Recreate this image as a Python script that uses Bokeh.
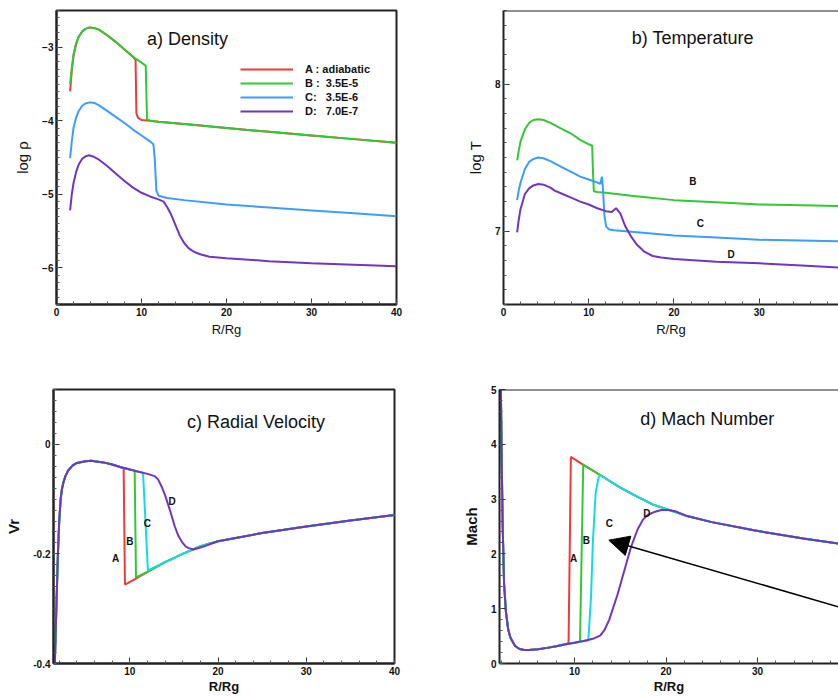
from bokeh.plotting import figure
from bokeh.layouts import column, row
from bokeh.models import (Range1d, SingleIntervalTicker, FixedTicker, Legend, LegendItem,
                          Label, Span, Arrow, NormalHead, ColumnDataSource, CustomJSTickFormatter)
from bokeh.core.properties import value
from bokeh.embed import file_html
from bokeh.resources import INLINE

FONT = "Liberation Sans"

# ---------------- data: a) density (log rho) ----------------
RHO_R_A = [1.6, 1.8, 2.0, 2.3, 2.6, 3.0, 3.4, 3.9, 4.5, 5.0, 6.0, 7.0, 8.0, 9.0, 9.3, 9.4, 9.6, 10.0, 11.0, 12.0, 14.0, 16.0, 20.0, 25.0, 30.0, 35.0, 40.0]
RHO_A = [-3.60, -3.32, -3.12, -2.96, -2.86, -2.79, -2.75, -2.73, -2.74, -2.76, -2.84, -2.93, -3.03, -3.13, -3.17, -3.90, -3.96, -3.99, -4.00, -4.015, -4.035, -4.055, -4.10, -4.15, -4.20, -4.25, -4.30]
RHO_R_B = [1.6, 1.8, 2.0, 2.3, 2.6, 3.0, 3.4, 3.9, 4.5, 5.0, 6.0, 7.0, 8.0, 9.0, 10.0, 10.5, 10.65, 11.0, 12.0, 14.0, 16.0, 20.0, 25.0, 30.0, 35.0, 40.0]
RHO_B = [-3.50, -3.28, -3.10, -2.95, -2.86, -2.79, -2.75, -2.73, -2.74, -2.76, -2.84, -2.93, -3.03, -3.13, -3.21, -3.25, -3.98, -4.00, -4.015, -4.035, -4.055, -4.10, -4.15, -4.20, -4.25, -4.30]
RHO_R_C = [1.6, 1.8, 2.0, 2.3, 2.6, 3.0, 3.4, 3.9, 4.5, 5.0, 6.0, 7.0, 8.0, 9.0, 10.0, 11.0, 11.4, 11.55, 11.75, 12.0, 13.0, 15.0, 20.0, 25.0, 30.0, 35.0, 40.0]
RHO_C = [-4.51, -4.28, -4.10, -3.96, -3.87, -3.80, -3.765, -3.75, -3.76, -3.79, -3.87, -3.95, -4.03, -4.12, -4.20, -4.28, -4.32, -4.50, -4.95, -5.02, -5.05, -5.08, -5.14, -5.18, -5.22, -5.26, -5.30]
RHO_R_D = [1.6, 1.8, 2.0, 2.3, 2.6, 3.0, 3.4, 3.8, 4.4, 5.0, 6.0, 7.0, 8.0, 9.0, 10.0, 11.0, 12.0, 12.6, 13.0, 13.5, 14.0, 14.5, 15.0, 15.5, 16.0, 16.5, 17.0, 18.0, 20.0, 25.0, 30.0, 35.0, 40.0]
RHO_D = [-5.22, -5.00, -4.85, -4.70, -4.60, -4.52, -4.485, -4.47, -4.49, -4.53, -4.62, -4.72, -4.82, -4.91, -4.98, -5.03, -5.07, -5.10, -5.17, -5.28, -5.42, -5.56, -5.66, -5.73, -5.77, -5.80, -5.82, -5.85, -5.87, -5.91, -5.94, -5.96, -5.98]
LEGEND_LABELS = ["A : adiabatic", "B :  3.5E-5", "C:   3.5E-6", "D:   7.0E-7"]

# ---------------- data: b) temperature (log T) ----------------
T_R_B = [1.6, 1.8, 2.0, 2.5, 3.0, 3.5, 4.1, 4.7, 5.5, 6.0, 7.0, 8.0, 9.0, 10.0, 10.4, 10.5, 10.6, 11.0, 12.0, 15.0, 20.0, 25.0, 30.0, 35.0, 40.0]
T_B = [7.48, 7.55, 7.61, 7.69, 7.735, 7.755, 7.76, 7.755, 7.735, 7.72, 7.69, 7.66, 7.62, 7.59, 7.58, 7.40, 7.27, 7.265, 7.26, 7.24, 7.21, 7.195, 7.18, 7.175, 7.17]
T_R_C = [1.6, 1.8, 2.0, 2.5, 3.0, 3.5, 4.1, 4.7, 5.5, 6.0, 7.0, 8.0, 9.0, 10.0, 11.0, 11.35, 11.55, 11.65, 11.85, 12.05, 12.4, 13.0, 15.0, 20.0, 25.0, 30.0, 35.0, 40.0]
T_C = [7.21, 7.28, 7.33, 7.42, 7.47, 7.49, 7.50, 7.495, 7.475, 7.46, 7.43, 7.40, 7.37, 7.35, 7.33, 7.32, 7.37, 7.30, 7.10, 7.03, 7.01, 7.005, 6.995, 6.97, 6.955, 6.94, 6.935, 6.93]
T_R_D = [1.6, 1.8, 2.0, 2.5, 3.0, 3.5, 4.1, 4.7, 5.5, 6.0, 7.0, 8.0, 9.0, 10.0, 11.0, 12.0, 12.7, 13.2, 13.7, 14.3, 15.0, 15.6, 16.5, 17.5, 18.5, 20.0, 25.0, 30.0, 35.0, 40.0]
T_D = [6.99, 7.08, 7.15, 7.25, 7.29, 7.31, 7.32, 7.315, 7.295, 7.275, 7.25, 7.225, 7.20, 7.18, 7.155, 7.135, 7.13, 7.155, 7.12, 7.03, 6.96, 6.91, 6.86, 6.83, 6.82, 6.81, 6.79, 6.78, 6.765, 6.75]
T_TAG_X = [22.2, 23.1, 26.7]
T_TAG_Y = [7.34, 7.05, 6.84]
T_TAG_TEXT = ["B", "C", "D"]

# ---------------- data: c) radial velocity ----------------
V_PRE_R = [1.5, 1.67, 1.85, 2.0, 2.16, 2.3, 2.5, 2.7, 3.0, 3.5, 4.0, 5.0, 5.6, 6.0, 7.0, 8.0, 9.0]
V_PRE = [-0.40, -0.30, -0.20, -0.14, -0.10, -0.082, -0.068, -0.058, -0.048, -0.039, -0.034, -0.031, -0.030, -0.031, -0.033, -0.037, -0.042]
V_R_A = V_PRE_R + [9.3, 9.45, 10.7, 12.0, 14.0, 16.0, 18.0, 20.0, 25.0, 30.0, 35.0, 40.0]
V_A = V_PRE + [-0.044, -0.256, -0.245, -0.233, -0.215, -0.200, -0.186, -0.177, -0.162, -0.150, -0.139, -0.129]
V_R_B = V_PRE_R + [10.0, 10.55, 10.7, 12.0, 14.0, 16.0, 18.0, 20.0, 25.0, 30.0, 35.0, 40.0]
V_B = V_PRE + [-0.046, -0.048, -0.243, -0.233, -0.215, -0.200, -0.186, -0.177, -0.162, -0.150, -0.139, -0.129]
V_R_C = V_PRE_R + [10.0, 11.0, 11.5, 12.05, 14.0, 16.0, 18.0, 20.0, 25.0, 30.0, 35.0, 40.0]
V_C = V_PRE + [-0.046, -0.050, -0.052, -0.230, -0.215, -0.200, -0.186, -0.177, -0.162, -0.150, -0.139, -0.129]
V_R_D = V_PRE_R + [10.0, 11.0, 12.0, 12.8, 13.2, 13.6, 14.0, 14.6, 15.1, 15.5, 15.9, 16.3, 16.6, 17.2, 18.1, 20.0, 25.0, 30.0, 35.0, 40.0]
V_D = V_PRE + [-0.046, -0.050, -0.054, -0.058, -0.064, -0.077, -0.093, -0.123, -0.150, -0.167, -0.178, -0.186, -0.189, -0.192, -0.188, -0.177, -0.162, -0.150, -0.139, -0.129]
V_TAG_X = [8.4, 10.0, 12.0, 14.8]
V_TAG_Y = [-0.209, -0.177, -0.144, -0.105]
V_TAG_TEXT = ["A", "B", "C", "D"]

# ---------------- data: d) Mach number ----------------
M_PRE_R = [1.95, 2.05, 2.15, 2.3, 2.5, 2.75, 3.0, 3.5, 4.0, 4.5, 5.0, 6.0, 7.0, 8.0, 9.0]
M_PRE = [5.0, 3.6, 2.5, 1.45, 0.95, 0.62, 0.47, 0.32, 0.265, 0.245, 0.245, 0.26, 0.285, 0.315, 0.35]
M_R_A = M_PRE_R + [9.35, 9.6, 11.0, 12.8, 15.0, 17.0, 18.6, 22.3, 25.0, 29.6, 35.0, 40.0]
M_A = M_PRE + [0.37, 3.77, 3.62, 3.44, 3.21, 3.03, 2.90, 2.69, 2.58, 2.43, 2.28, 2.16]
M_R_B = M_PRE_R + [10.0, 10.6, 10.95, 12.8, 15.0, 17.0, 18.6, 22.3, 25.0, 29.6, 35.0, 40.0]
M_B = M_PRE + [0.38, 0.40, 3.63, 3.44, 3.21, 3.03, 2.90, 2.69, 2.58, 2.43, 2.28, 2.16]
M_R_C = M_PRE_R + [10.0, 11.0, 11.5, 11.8, 12.0, 12.3, 12.6, 12.8, 15.0, 17.0, 18.6, 22.3, 25.0, 29.6, 35.0, 40.0]
M_C = M_PRE + [0.38, 0.41, 0.42, 1.2, 2.2, 3.1, 3.38, 3.44, 3.21, 3.03, 2.90, 2.69, 2.58, 2.43, 2.28, 2.16]
M_R_D = M_PRE_R + [10.0, 11.0, 12.0, 12.8, 13.3, 13.8, 14.7, 15.6, 16.2, 16.9, 17.5, 18.0, 18.8, 19.5, 20.3, 21.0, 22.3, 25.0, 29.6, 35.0, 40.0]
M_D = M_PRE + [0.38, 0.41, 0.45, 0.51, 0.62, 0.80, 1.26, 1.79, 2.14, 2.45, 2.63, 2.71, 2.77, 2.80, 2.80, 2.78, 2.69, 2.58, 2.43, 2.28, 2.16]
M_TAG_X = [9.9, 11.3, 13.8, 17.9]
M_TAG_Y = [1.91, 2.24, 2.55, 2.73]
M_TAG_TEXT = ["A", "B", "C", "D"]
ARROW_START = (41.0, 0.93)
ARROW_END = (13.75, 2.25)

RED, GREEN, BLUE, CYAN, PURPLE = "#ee3a3a", "#33c833", "#3d9cff", "#10dde0", "#7235c0"


def make_fig(w, h, xr, yr, left, right, top, bottom, ytick, xlabel, ylabel, ylab_bold, box=True):
    p = figure(width=w, height=h, x_range=Range1d(*xr), y_range=Range1d(*yr),
               output_backend="svg", toolbar_location=None,
               min_border_left=left, min_border_right=right,
               min_border_top=top, min_border_bottom=bottom,
               background_fill_color="white", border_fill_color="white")
    p.xgrid.visible = False
    p.ygrid.visible = False
    p.xaxis.ticker = SingleIntervalTicker(interval=10, num_minor_ticks=5)
    p.yaxis.ticker = ytick
    for ax in (p.xaxis[0], p.yaxis[0]):
        ax.axis_line_width = 2
        ax.axis_line_color = "#222222"
        ax.major_tick_in = 6
        ax.major_tick_out = 0
        ax.minor_tick_in = 3
        ax.minor_tick_out = 0
        ax.major_tick_line_color = "#333333"
        ax.minor_tick_line_color = "#555555"
        ax.major_label_text_font = FONT
        ax.major_label_text_font_size = "10px"
        ax.major_label_text_font_style = "bold"
        ax.major_label_text_color = "#111111"
        ax.axis_label_text_font = FONT
        ax.axis_label_text_font_style = "bold" if ylab_bold else "normal"
        ax.axis_label_text_color = "#111111"
    p.xaxis.major_label_standoff = 3
    p.yaxis.major_label_standoff = 3
    p.xaxis.axis_label = xlabel
    p.yaxis.axis_label = ylabel
    p.xaxis.axis_label_text_font_size = "13px"
    p.yaxis.axis_label_text_font_size = "15px"
    p.xaxis.axis_label_standoff = 3
    p.yaxis.axis_label_standoff = 8
    if box:
        p.outline_line_color = "#222222"
        p.outline_line_width = 2
    else:
        p.outline_line_color = None
        p.add_layout(Span(location=yr[1], dimension="width", line_color="#222222", line_width=2))
    return p


def tags(p, xs, ys, txt):
    src = ColumnDataSource(dict(x=xs, y=ys, t=txt))
    p.text(x="x", y="y", text="t", source=src, text_font=value(FONT), text_font_size="10px",
           text_font_style="bold", text_align="center", text_baseline="middle", text_color="#111111")


def title(p, x, y, txt):
    p.add_layout(Label(x=x, y=y, text=txt, text_font=FONT, text_font_size="18px",
                       text_align="center", text_baseline="middle", text_color="#111111"))


# ---------- a) density ----------
fa = make_fig(420, 348, (0, 40), (-6.5, -2.5), 56, 24, 10, 44,
              SingleIntervalTicker(interval=1, num_minor_ticks=10), "R/Rg", "log ρ", False)
ra = fa.line(RHO_R_A, RHO_A, line_color=RED, line_width=2)
rb = fa.line(RHO_R_B, RHO_B, line_color=GREEN, line_width=2)
rc = fa.line(RHO_R_C, RHO_C, line_color=BLUE, line_width=2)
rd = fa.line(RHO_R_D, RHO_D, line_color=PURPLE, line_width=2)
legend = Legend(items=[LegendItem(label=lab, renderers=[r]) for lab, r in zip(LEGEND_LABELS, [ra, rb, rc, rd])],
                location=(184, 186), border_line_color=None, background_fill_alpha=0,
                padding=0, margin=0, spacing=0, glyph_width=53, glyph_height=14, label_height=14,
                label_standoff=12, label_text_font=FONT, label_text_font_size="11px",
                label_text_font_style="bold", label_text_color="#111111")
fa.add_layout(legend)
title(fa, 15.4, -2.89, "a) Density")

# ---------- b) temperature ----------
fb = make_fig(418, 348, (0, 39.3), (6.5, 8.5), 83, 0, 7, 43,
              SingleIntervalTicker(interval=1, num_minor_ticks=10), "R/Rg", "log T", False, box=False)
fb.line(T_R_B, T_B, line_color=GREEN, line_width=2)
fb.line(T_R_C, T_C, line_color=BLUE, line_width=2)
fb.line(T_R_D, T_D, line_color=PURPLE, line_width=2)
tags(fb, T_TAG_X, T_TAG_Y, T_TAG_TEXT)
title(fb, 22.2, 8.31, "b) Temperature")

# ---------- c) radial velocity ----------
vt = FixedTicker(ticks=[-0.4, -0.2, 0.0], minor_ticks=[round(-0.4 + 0.02 * i, 2) for i in range(26)])
fc = make_fig(420, 348, (1.35, 40), (-0.4, 0.1), 53, 26, 41, 28, vt, "R/Rg", "Vr", True)
fc.yaxis.formatter = CustomJSTickFormatter(code="const v = Math.round(tick*10)/10; return v === 0 ? '0' : v.toString();")
fc.xaxis.axis_label_standoff = 1
fc.line(V_R_A, V_A, line_color=RED, line_width=2)
fc.line(V_R_B, V_B, line_color=GREEN, line_width=2)
fc.line(V_R_C, V_C, line_color=CYAN, line_width=2)
fc.line(V_R_D, V_D, line_color=PURPLE, line_width=2)
tags(fc, V_TAG_X, V_TAG_Y, V_TAG_TEXT)
title(fc, 24.3, 0.041, "c) Radial Velocity")

# ---------- d) Mach number ----------
fd = make_fig(418, 348, (1.8, 38.85), (0, 5), 79, 0, 35, 28,
              SingleIntervalTicker(interval=1, num_minor_ticks=5), "R/Rg", "Mach", True, box=False)
fd.xaxis.axis_label_standoff = 1
fd.line(M_R_A, M_A, line_color=RED, line_width=2)
fd.line(M_R_B, M_B, line_color=GREEN, line_width=2)
fd.line(M_R_C, M_C, line_color=CYAN, line_width=2)
fd.line(M_R_D, M_D, line_color=PURPLE, line_width=2)
tags(fd, M_TAG_X, M_TAG_Y, M_TAG_TEXT)
title(fd, 24.5, 4.46, "d) Mach Number")
fd.add_layout(Arrow(end=NormalHead(size=20, fill_color="black", line_color="black"),
                    x_start=ARROW_START[0], y_start=ARROW_START[1],
                    x_end=ARROW_END[0], y_end=ARROW_END[1],
                    line_color="black", line_width=1.5))

layout = column(row(fa, fb), row(fc, fd))
open("out.html", "w").write(file_html(layout, INLINE))
